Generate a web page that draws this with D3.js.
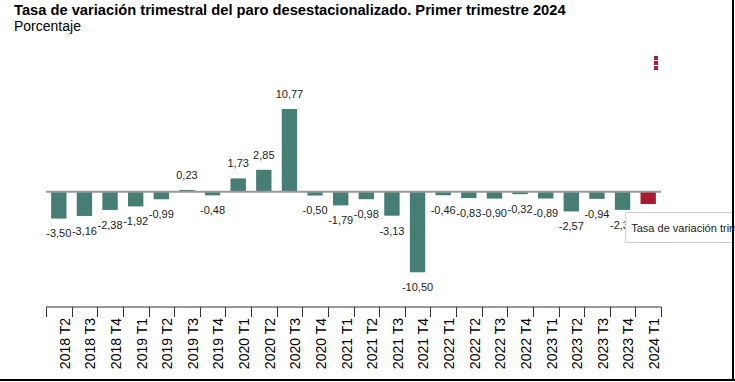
<!DOCTYPE html>
<html><head><meta charset="utf-8">
<script src="https://cdn.jsdelivr.net/npm/d3@7"></script>
<style>
body{margin:0;background:#fff;}
svg{display:block;font-family:"Liberation Sans",Arial,sans-serif;}
</style></head>
<body><svg id="c" width="735" height="382"></svg>
<script>
const categories = ["2018 T2","2018 T3","2018 T4","2019 T1","2019 T2","2019 T3","2019 T4","2020 T1","2020 T2","2020 T3","2020 T4","2021 T1","2021 T2","2021 T3","2021 T4","2022 T1","2022 T2","2022 T3","2022 T4","2023 T1","2023 T2","2023 T3","2023 T4","2024 T1"];
const values = [-3.50,-3.16,-2.38,-1.92,-0.99,0.23,-0.48,1.73,2.85,10.77,-0.50,-1.79,-0.98,-3.13,-10.50,-0.46,-0.83,-0.90,-0.32,-0.89,-2.57,-0.94,-2.37,-1.60];
const highlight = "2024 T1";
const title = "Tasa de variación trimestral del paro desestacionalizado. Primer trimestre 2024";
const subtitle = "Porcentaje";
const tooltipText = "Tasa de variación trimestral del paro desestacionalizado";

const svg = d3.select("#c");
const fmt = v => d3.format(".2f")(v).replace(".", ",").replace("\u2212", "-");

const x = d3.scaleBand().domain(categories).range([46, 661]).paddingInner(0.4).paddingOuter(0.2);
const y = d3.scaleLinear().domain([-10.5, 10.77]).range([272.3, 109]);
const data = categories.map((c, i) => ({c, v: values[i]}));

svg.append("text").attr("x", 14).attr("y", 15).attr("font-size", 14.7).attr("font-weight", "bold").attr("fill", "#000").text(title);
svg.append("text").attr("x", 14).attr("y", 31).attr("font-size", 14).attr("fill", "#000").text(subtitle);

// bars
svg.append("g").selectAll("rect").data(data).join("rect")
  .attr("x", d => x(d.c))
  .attr("width", x.bandwidth())
  .attr("y", d => y(Math.max(0, d.v)))
  .attr("height", d => Math.abs(y(d.v) - y(0)))
  .attr("fill", d => d.c === highlight ? "#a51c30" : "#467e74");

// zero line
svg.append("line").attr("x1", 46).attr("x2", 661).attr("y1", y(0)).attr("y2", y(0))
  .attr("stroke", "#999").attr("stroke-width", 2);

// value labels (the highlighted bar's label is hidden under the tooltip in the reference)
svg.append("g").selectAll("text").data(data.filter(d => d.c !== highlight)).join("text")
  .attr("x", d => x(d.c) + x.bandwidth() / 2)
  .attr("y", d => d.v >= 0 ? y(d.v) - 15 : y(d.v) + 15)
  .attr("dy", "0.35em")
  .attr("text-anchor", "middle")
  .attr("font-size", 11)
  .attr("fill", "#222")
  .text(d => fmt(d.v));

// x axis
const ax = svg.append("g");
const step = x.step();
const axY = 307;
ax.append("line").attr("x1", 46).attr("x2", 661).attr("y1", axY).attr("y2", axY).attr("stroke", "#333").attr("stroke-width", 1);
const bounds = categories.map(c => x(c) - step * x.paddingInner() / 2).concat([x(categories[categories.length - 1]) + x.bandwidth() + step * x.paddingInner() / 2]);
ax.selectAll("line.t").data(bounds).join("line").attr("class", "t")
  .attr("x1", d => Math.round(d) + 0.5).attr("x2", d => Math.round(d) + 0.5)
  .attr("y1", axY).attr("y2", axY + 10).attr("stroke", "#333");
ax.selectAll("text").data(categories).join("text")
  .attr("transform", c => `translate(${x(c) + x.bandwidth() / 2 + 6},${axY + 11}) rotate(-90)`)
  .attr("text-anchor", "end")
  .attr("dy", "0.35em")
  .attr("font-size", 14)
  .attr("fill", "#000")
  .text(c => c);

// tooltip
const tx = x("2023 T4") + x.bandwidth() - 5;
const tt = svg.append("g").attr("transform", `translate(${tx},212)`);
tt.append("rect").attr("x", 0.5).attr("y", 0.5).attr("width", 140).attr("height", 30).attr("fill", "#fff").attr("stroke", "#ccc");
tt.append("text").attr("x", 6).attr("y", 20).attr("font-size", 11).attr("fill", "#222").text(tooltipText);

// menu icon
svg.append("g").selectAll("rect").data([0, 1, 2]).join("rect")
  .attr("x", 654).attr("y", d => 56 + d * 5).attr("width", 4).attr("height", 4).attr("fill", "#a51c3d");

// frame borders
svg.append("line").attr("x1", 0).attr("x2", 735).attr("y1", 380).attr("y2", 380).attr("stroke", "#000").attr("stroke-width", 2);
svg.append("line").attr("x1", 733).attr("x2", 733).attr("y1", 0).attr("y2", 381).attr("stroke", "#000").attr("stroke-width", 2);
</script></body></html>
